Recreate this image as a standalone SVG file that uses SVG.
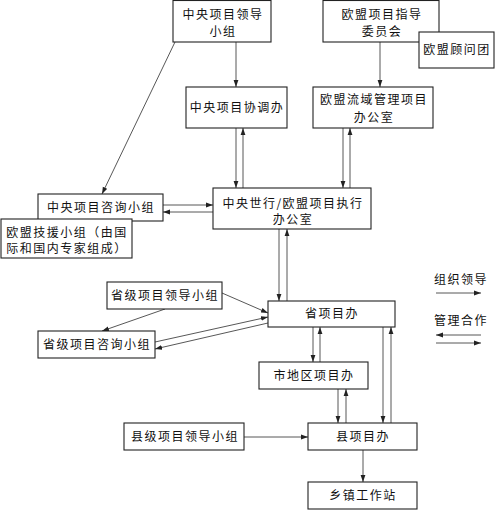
<svg xmlns="http://www.w3.org/2000/svg" width="496" height="510" viewBox="0 0 496 510">
<style>
.b{fill:#fff;stroke:#222;stroke-width:1.1}
.t{font-family:"Noto Sans CJK SC","Noto Sans CJK JP",sans-serif;font-size:12px;fill:#111;text-anchor:middle;letter-spacing:1.5px}
.c{stroke:#444;stroke-width:0.9;fill:none}
</style>
<defs>
<marker id="a" markerUnits="userSpaceOnUse" markerWidth="8" markerHeight="6" refX="7" refY="3" orient="auto">
<path d="M0,0.6 L7,3 L0,5.4 Z" fill="#222"/>
</marker>
</defs>
<g id="connectors">
<line class="c" x1="236" y1="42" x2="236" y2="87" marker-end="url(#a)"/>
<line class="c" x1="380" y1="42" x2="380" y2="87" marker-end="url(#a)"/>
<line class="c" x1="175" y1="42" x2="102" y2="194" marker-end="url(#a)"/>
<line class="c" x1="236" y1="128" x2="236" y2="188" marker-end="url(#a)"/>
<line class="c" x1="243" y1="188" x2="243" y2="128" marker-end="url(#a)"/>
<line class="c" x1="343" y1="128" x2="343" y2="188" marker-end="url(#a)"/>
<line class="c" x1="350" y1="188" x2="350" y2="128" marker-end="url(#a)"/>
<line class="c" x1="163" y1="205" x2="213" y2="205" marker-end="url(#a)"/>
<line class="c" x1="213" y1="212" x2="163" y2="212" marker-end="url(#a)"/>
<line class="c" x1="279" y1="229" x2="279" y2="301" marker-end="url(#a)"/>
<line class="c" x1="287" y1="301" x2="287" y2="229" marker-end="url(#a)"/>
<line class="c" x1="222" y1="293" x2="268" y2="313" marker-end="url(#a)"/>
<line class="c" x1="165" y1="309" x2="102" y2="331" marker-end="url(#a)"/>
<line class="c" x1="155" y1="342" x2="268" y2="317" marker-end="url(#a)"/>
<line class="c" x1="268" y1="323" x2="155" y2="349" marker-end="url(#a)"/>
<line class="c" x1="313" y1="327" x2="313" y2="362" marker-end="url(#a)"/>
<line class="c" x1="320" y1="362" x2="320" y2="327" marker-end="url(#a)"/>
<line class="c" x1="383" y1="327" x2="383" y2="423" marker-end="url(#a)"/>
<line class="c" x1="391" y1="423" x2="391" y2="327" marker-end="url(#a)"/>
<line class="c" x1="338" y1="389" x2="338" y2="423" marker-end="url(#a)"/>
<line class="c" x1="346" y1="423" x2="346" y2="389" marker-end="url(#a)"/>
<line class="c" x1="244" y1="437" x2="308" y2="437" marker-end="url(#a)"/>
<line class="c" x1="363" y1="450" x2="363" y2="482" marker-end="url(#a)"/>
</g>
<g id="legend">
<text class="t" x="461" y="284">组织领导</text>
<line class="c" x1="436" y1="293" x2="481" y2="293" marker-end="url(#a)"/>
<text class="t" x="461" y="325">管理合作</text>
<line class="c" x1="481" y1="335" x2="436" y2="335" marker-end="url(#a)"/>
<line class="c" x1="436" y1="343" x2="481" y2="343" marker-end="url(#a)"/>
</g>
<g id="n1"><rect class="b" x="173" y="0.5" width="98" height="41.5"/><text class="t" x="223" y="19">中央项目领导</text><text class="t" x="223" y="36">小组</text></g>
<g id="n2"><rect class="b" x="323" y="0.5" width="116" height="41.5"/><text class="t" x="382" y="19">欧盟项目指导</text><text class="t" x="382" y="36">委员会</text></g>
<g id="n3"><rect class="b" x="419" y="32" width="75" height="36"/><text class="t" x="457" y="54">欧盟顾问团</text></g>
<g id="n4"><rect class="b" x="186" y="87" width="101" height="41"/><text class="t" x="237" y="112">中央项目协调办</text></g>
<g id="n5"><rect class="b" x="313" y="87" width="120" height="41"/><text class="t" x="374" y="104">欧盟流域管理项目</text><text class="t" x="374" y="122">办公室</text></g>
<g id="n6"><rect class="b" x="38" y="194" width="125" height="27"/><text class="t" x="101" y="212">中央项目咨询小组</text></g>
<g id="n7"><rect class="b" x="1" y="219" width="131" height="39"/><text class="t" x="67" y="237">欧盟技援小组（由国</text><text class="t" x="67" y="253">际和国内专家组成）</text></g>
<g id="n8"><rect class="b" x="213" y="188" width="158" height="41"/><text class="t" x="293" y="208">中央世行/欧盟项目执行</text><text class="t" x="293" y="224">办公室</text></g>
<g id="n9"><rect class="b" x="107" y="282" width="115" height="27"/><text class="t" x="165" y="300">省级项目领导小组</text></g>
<g id="n10"><rect class="b" x="38" y="331" width="117" height="27"/><text class="t" x="97" y="349">省级项目咨询小组</text></g>
<g id="n11"><rect class="b" x="268" y="301" width="127" height="26"/><text class="t" x="332" y="318">省项目办</text></g>
<g id="n12"><rect class="b" x="259" y="362" width="109" height="27"/><text class="t" x="314" y="380">市地区项目办</text></g>
<g id="n13"><rect class="b" x="124" y="423" width="120" height="27"/><text class="t" x="185" y="441">县级项目领导小组</text></g>
<g id="n14"><rect class="b" x="308" y="423" width="109" height="27"/><text class="t" x="363" y="441">县项目办</text></g>
<g id="n15"><rect class="b" x="308" y="482" width="109" height="27"/><text class="t" x="363" y="500">乡镇工作站</text></g>
</svg>
